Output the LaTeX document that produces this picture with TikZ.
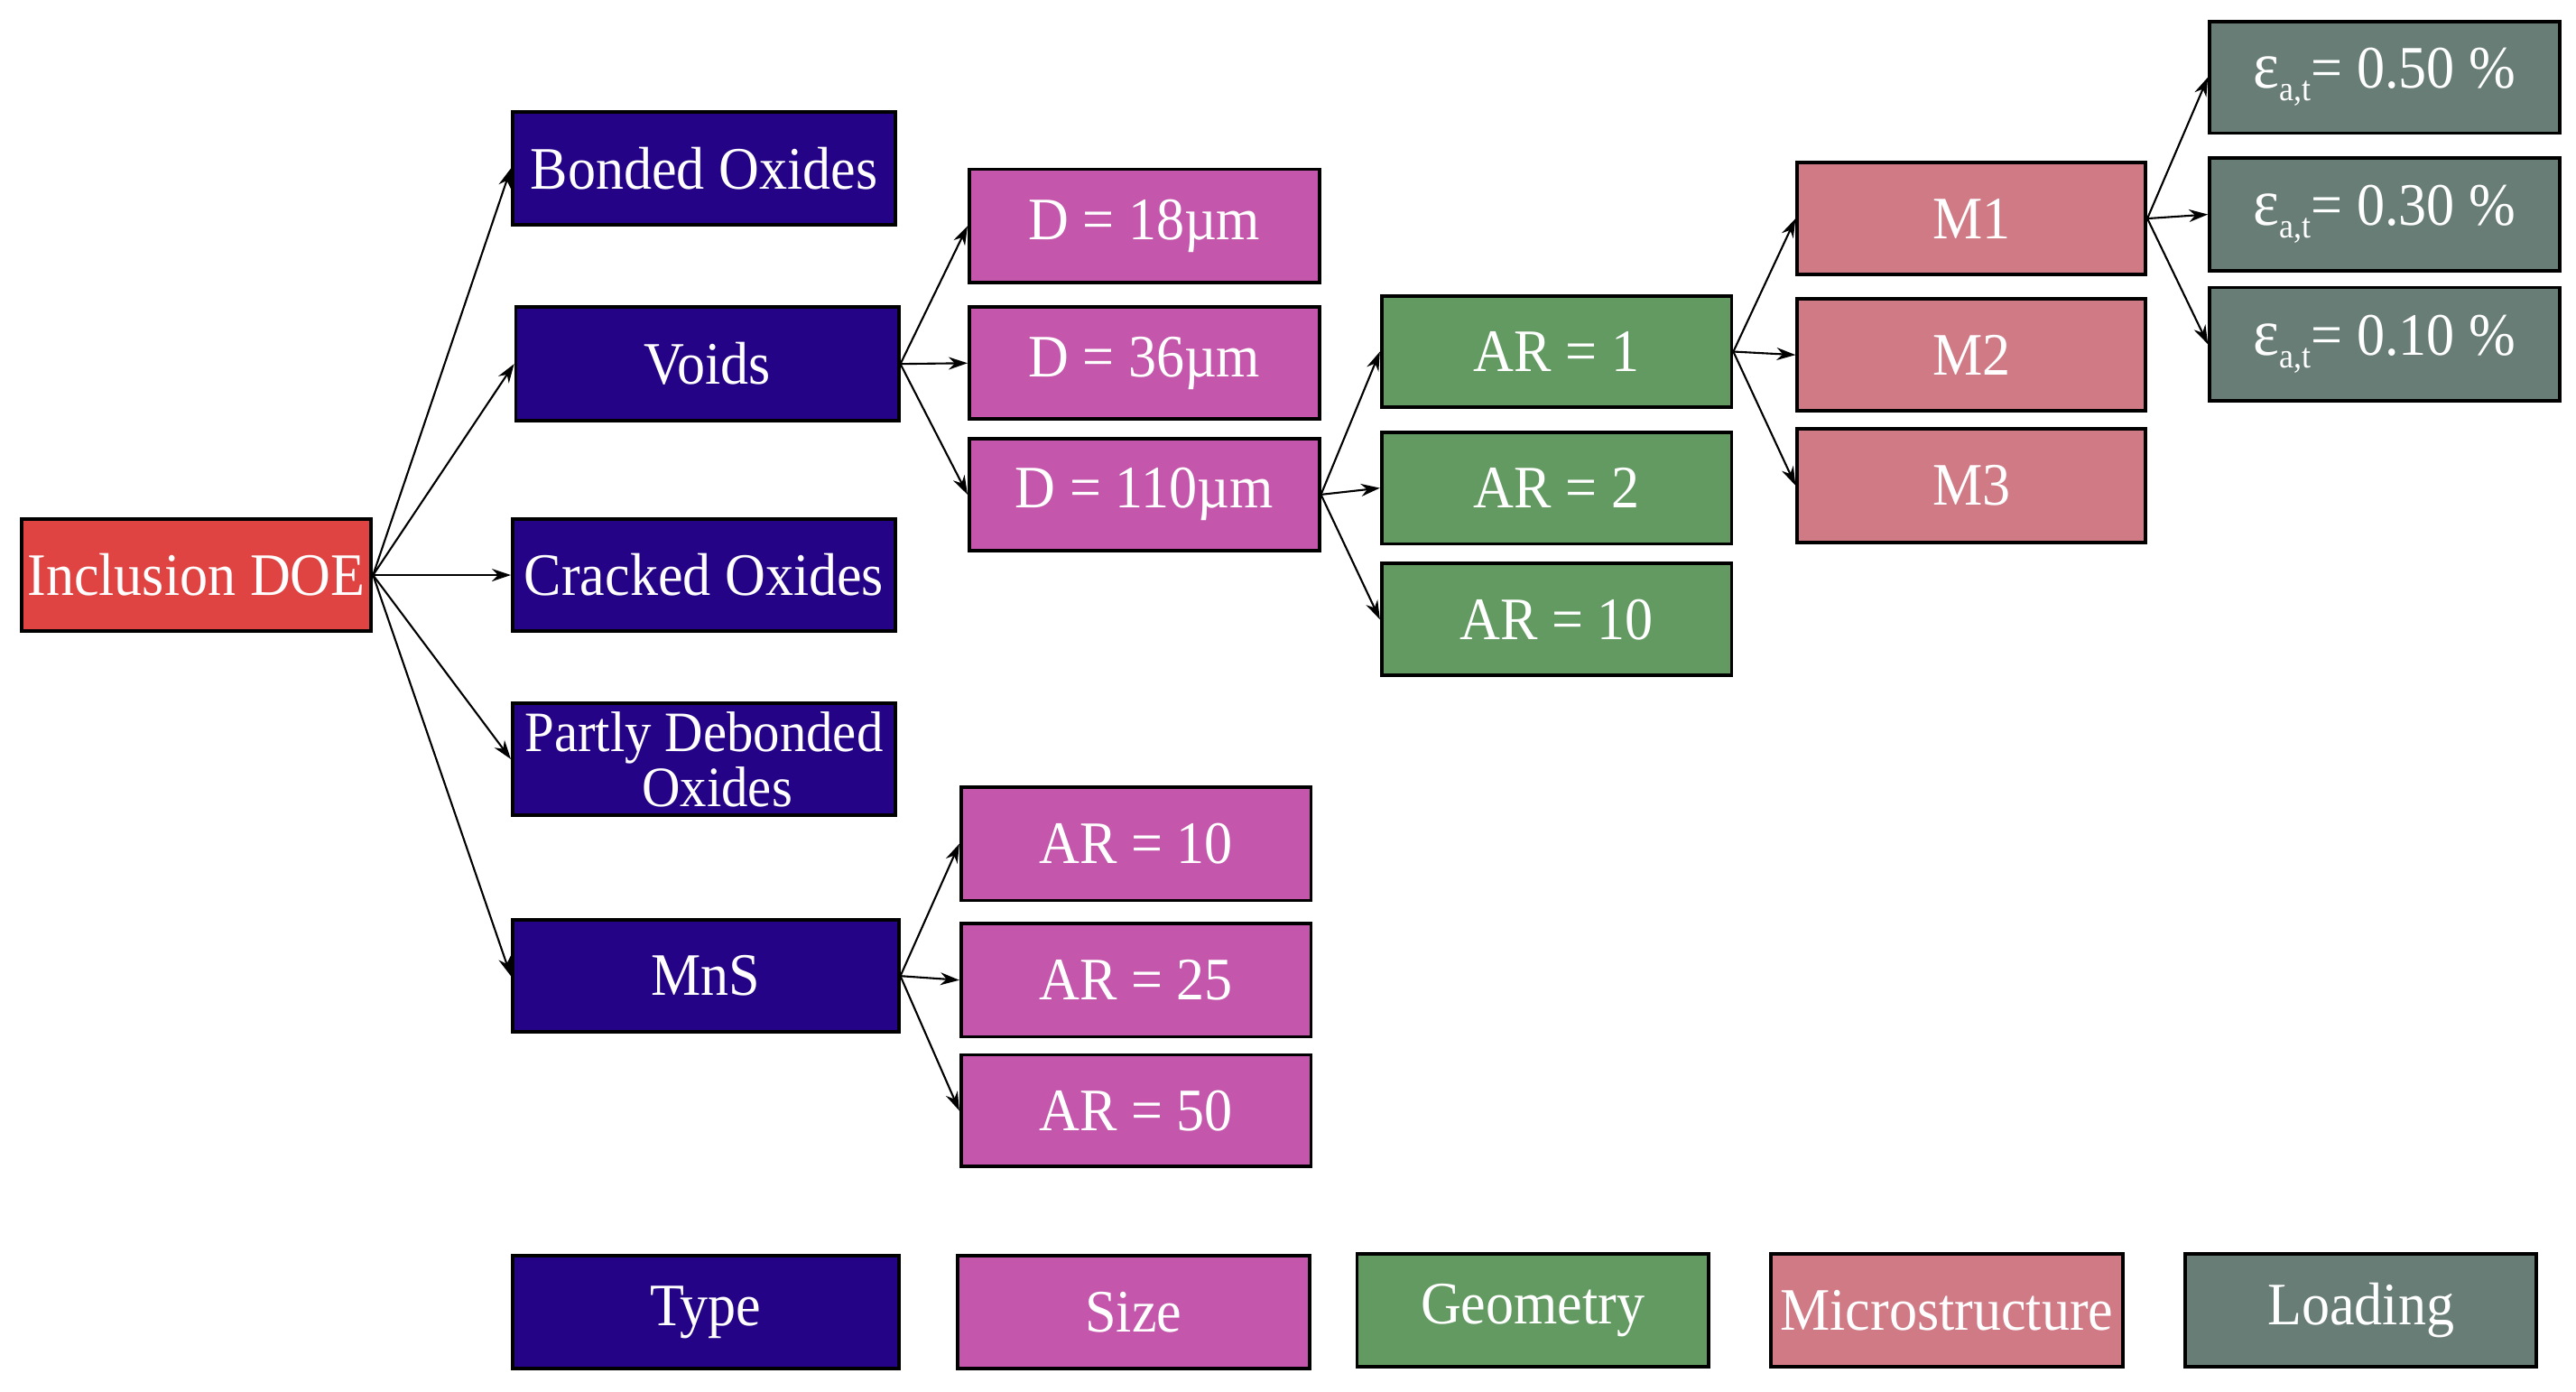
\documentclass[tikz,border=0pt]{standalone}
\usepackage{fontspec}
\setmainfont{Liberation Serif}[FakeStretch=0.93]
\usetikzlibrary{arrows.meta}
\definecolor{cDOE}{RGB}{224,68,66}
\definecolor{cType}{RGB}{37,3,135}
\definecolor{cSize}{RGB}{196,87,171}
\definecolor{cGeo}{RGB}{98,154,98}
\definecolor{cMic}{RGB}{208,122,133}
\definecolor{cLoad}{RGB}{103,125,118}
\tikzset{
  box/.style 2 args={draw=black, line width=1.1pt, text=white, inner sep=0pt,
    minimum width=#1*0.0182cm, minimum height=#2*0.0182cm,
    font=\fontsize{19}{19}\selectfont, align=center},
  conn/.style={-{Stealth[length=0.21cm,width=0.14cm]}, line width=0.6pt},
}
\newcommand{\epsl}[1]{{\fontsize{21}{21}\selectfont ε}\raisebox{-0.45ex}{\fontsize{11}{11}\selectfont a,t}= #1 \%}
\begin{document}
\begin{tikzpicture}[x=0.0182cm, y=-0.0182cm]
\useasboundingbox (0,0) rectangle (1568,847);
% nodes
\node[box={213}{68}, fill=cDOE] (doe) at (119.5,350) {Inclusion DOE};
\node[box={233}{69}, fill=cType] (bonded) at (428.5,102.5) {Bonded Oxides};
\node[box={233}{69}, fill=cType] (voids) at (430.5,221.5) {Voids};
\node[box={233}{68}, fill=cType] (cracked) at (428.5,350) {Cracked Oxides};
\node[box={233}{68}, fill=cType, font=\fontsize{18}{15}\selectfont] (partly) at (428.5,462) {Partly Debonded\\ \ \ Oxides};
\node[box={235}{68}, fill=cType] (mns) at (429.5,594) {MnS};
\node[box={213}{69}, fill=cSize] (d18) at (696.5,137.5) {D = 18µm};
\node[box={213}{68}, fill=cSize] (d36) at (696.5,221) {D = 36µm};
\node[box={213}{68}, fill=cSize] (d110) at (696.5,301) {D = 110µm};
\node[box={213}{68}, fill=cGeo] (ar1) at (947.5,214) {AR = 1};
\node[box={213}{68}, fill=cGeo] (ar2) at (947.5,297) {AR = 2};
\node[box={213}{68}, fill=cGeo] (ar10g) at (947.5,377) {AR = 10};
\node[box={212}{68}, fill=cMic] (m1) at (1200,133) {M1};
\node[box={212}{68}, fill=cMic] (m2) at (1200,216) {M2};
\node[box={212}{69}, fill=cMic] (m3) at (1200,295.5) {M3};
\node[box={213}{68}, fill=cLoad] (e50) at (1451.5,47) {\epsl{0.50}};
\node[box={213}{69}, fill=cLoad] (e30) at (1451.5,130.5) {\epsl{0.30}};
\node[box={213}{69}, fill=cLoad] (e10) at (1451.5,209.5) {\epsl{0.10}};
\node[box={213}{69}, fill=cSize] (ar10p) at (691.5,513.5) {AR = 10};
\node[box={213}{69}, fill=cSize] (ar25) at (691.5,596.5) {AR = 25};
\node[box={213}{68}, fill=cSize] (ar50) at (691.5,676) {AR = 50};
% legend
\node[box={235}{69}, fill=cType] (lType) at (429.5,798.5) {Type};
\node[box={214}{69}, fill=cSize] (lSize) at (690,798.5) {Size};
\node[box={214}{69}, fill=cGeo] (lGeo) at (933,797.5) {Geometry};
\node[box={214}{69}, fill=cMic] (lMic) at (1185,797.5) {Microstructure};
\node[box={214}{69}, fill=cLoad] (lLoad) at (1437,797.5) {Loading};
% connectors
\foreach \t in {bonded,voids,cracked,partly,mns} \draw[conn] (doe.east) -- (\t.west);
\foreach \t in {d18,d36,d110} \draw[conn] (voids.east) -- (\t.west);
\foreach \t in {ar1,ar2,ar10g} \draw[conn] (d110.east) -- (\t.west);
\foreach \t in {m1,m2,m3} \draw[conn] (ar1.east) -- (\t.west);
\foreach \t in {e50,e30,e10} \draw[conn] (m1.east) -- (\t.west);
\foreach \t in {ar10p,ar25,ar50} \draw[conn] (mns.east) -- (\t.west);
\end{tikzpicture}
\end{document}
